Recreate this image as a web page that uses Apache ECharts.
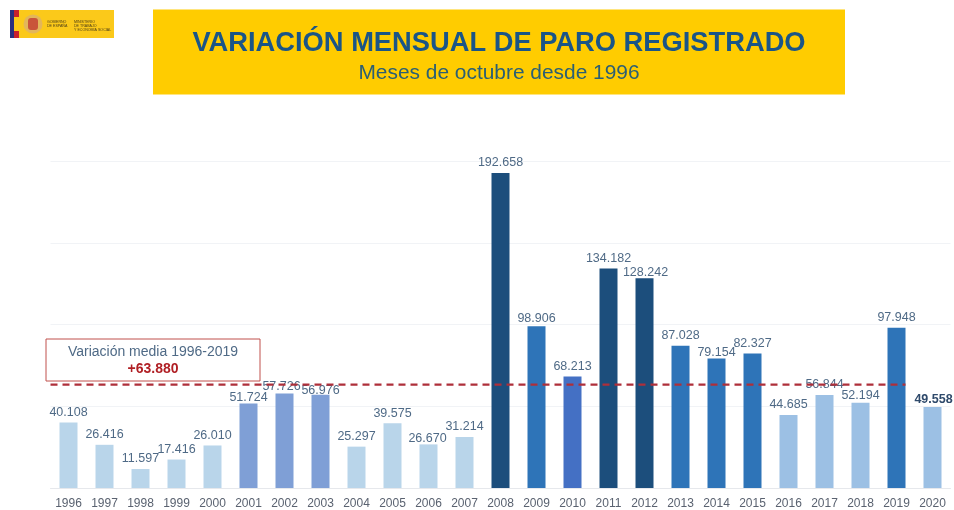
<!DOCTYPE html>
<html>
<head>
<meta charset="utf-8">
<title>Variación mensual de paro registrado</title>
<style>
  html, body {margin: 0; padding: 0; background: #fff;}
  #chart {width: 954px; height: 510px;}
</style>
<script src="https://cdn.jsdelivr.net/npm/echarts@6/dist/echarts.min.js"></script>
</head>
<body>
<div id="chart"></div>
<script>
const years = ['1996', '1997', '1998', '1999', '2000', '2001', '2002', '2003', '2004', '2005', '2006', '2007',
  '2008', '2009', '2010', '2011', '2012', '2013', '2014', '2015', '2016', '2017', '2018', '2019', '2020'];
const paro = [40108, 26416, 11597, 17416, 26010, 51724, 57726, 56976, 25297, 39575, 26670, 31214,
  192658, 98906, 68213, 134182, 128242, 87028, 79154, 82327, 44685, 56844, 52194, 97948, 49558];
const media = 63880;
const mediaDesde = '1996';
const mediaHasta = '2019';

// colours per bar, same order as years
const light = '#b9d5ea', violet = '#7f9fd6', navy = '#1c4e7c', blue = '#2e74b8', indigo = '#4470c4', sky = '#9cc0e4';
const barColors = [light, light, light, light, light, violet, violet, violet, light, light, light, light,
  navy, blue, indigo, navy, navy, blue, blue, blue, sky, sky, sky, blue, sky];

// hand nudges so the labels overlap the way they do in the slide: [dx, dy]
const labelNudge = {
  2001: [0, 4], 2002: [-3, 3], 2003: [0, 6], 2006: [-1, 4], 2009: [0, 2],
  2012: [1, 4], 2014: [0, 4], 2017: [0, -1], 2018: [0, 3], 2020: [1, 3]
};

const fmt = v => String(v).replace(/\B(?=(\d{3})+$)/g, '.');

const myChart = echarts.init(document.getElementById('chart'), null, {renderer: 'canvas'});
myChart.setOption({
  animation: false,
  backgroundColor: '#fff',
  textStyle: {fontFamily: '"Liberation Sans", Arial, sans-serif'},
  grid: {left: 50.5, right: 3.5, top: 161, bottom: 20},
  xAxis: {
    type: 'category',
    data: years,
    axisTick: {show: false},
    axisLine: {lineStyle: {color: '#e6e8ec', width: 1}},
    axisLabel: {color: '#5a6270', fontSize: 12, margin: 10, interval: 0}
  },
  yAxis: {
    type: 'value',
    min: 0,
    max: 200000,
    interval: 50000,
    axisLabel: {show: false},
    axisLine: {show: false},
    axisTick: {show: false},
    splitLine: {lineStyle: {color: '#f1f3f6', width: 1}}
  },
  series: [
    {
      type: 'bar',
      barWidth: 18,
      data: paro.map((v, i) => {
        const nudge = labelNudge[years[i]] || [0, 0];
        const last = years[i] === '2020';
        return {
          value: v,
          itemStyle: {color: barColors[i]},
          label: {
            offset: nudge,
            color: last ? '#2f4a6b' : '#4f6a86',
            fontWeight: last ? 'bold' : 'normal'
          }
        };
      }),
      label: {
        show: true,
        position: 'top',
        distance: 3.5,
        fontSize: 12.5,
        formatter: p => fmt(p.value)
      },
      z: 2
    },
    {
      // dashed average: from the left edge of the first slot to the right edge of the last bar
      type: 'custom',
      silent: true,
      z: 3,
      data: [[mediaDesde, mediaHasta, media]],
      encode: {x: [0, 1], y: 2},
      renderItem(params, api) {
        const from = api.coord([api.value(0), api.value(2)]);
        const to = api.coord([api.value(1), api.value(2)]);
        const slot = api.size([1, 0])[0];
        return {
          type: 'line',
          shape: {x1: from[0] - slot / 2, y1: from[1] + 1, x2: to[0] + slot / 4, y2: to[1] + 1},
          style: {stroke: '#ae2f3a', lineWidth: 2.2, lineDash: [7, 5], fill: null}
        };
      }
    }
  ],
  graphic: [
    // title band
    {type: 'rect', shape: {x: 153, y: 9.5, width: 692, height: 85}, style: {fill: '#ffcc00'}, z: 10},
    {type: 'text', x: 499, y: 43, z: 11, style: {
      text: 'VARIACIÓN MENSUAL DE PARO REGISTRADO',
      font: 'bold 27.3px "Liberation Sans", Arial, sans-serif',
      fill: '#1a5587', align: 'center', verticalAlign: 'middle'}},
    {type: 'text', x: 499, y: 73.5, z: 11, style: {
      text: 'Meses de octubre desde 1996',
      font: '20.9px "Liberation Sans", Arial, sans-serif',
      fill: '#2b5f74', align: 'center', verticalAlign: 'middle'}},
    // ministry logo
    {type: 'rect', shape: {x: 10, y: 10, width: 104, height: 28}, style: {fill: '#fbc91a'}, z: 10},
    {type: 'rect', shape: {x: 10, y: 10, width: 4, height: 28}, style: {fill: '#2a2f7f'}, z: 11},
    {type: 'rect', shape: {x: 14, y: 10, width: 5, height: 7}, style: {fill: '#c8202c'}, z: 11},
    {type: 'rect', shape: {x: 14, y: 31, width: 5, height: 7}, style: {fill: '#c8202c'}, z: 11},
    {type: 'circle', shape: {cx: 33, cy: 24, r: 9.5}, style: {fill: '#e3b65a'}, z: 11},
    {type: 'rect', shape: {x: 28, y: 18, width: 10, height: 12, r: 3}, style: {fill: '#c9543a'}, z: 12},
    {type: 'text', x: 47, y: 24, z: 11, style: {
      text: 'GOBIERNO\nDE ESPAÑA',
      font: '3.6px "Liberation Sans", Arial, sans-serif', lineHeight: 4,
      fill: '#4a3c18', verticalAlign: 'middle'}},
    {type: 'text', x: 74, y: 26, z: 11, style: {
      text: 'MINISTERIO\nDE TRABAJO\nY ECONOMÍA SOCIAL',
      font: '3.6px "Liberation Sans", Arial, sans-serif', lineHeight: 4,
      fill: '#4a3c18', verticalAlign: 'middle'}},
    // average callout
    {type: 'rect', shape: {x: 46, y: 339, width: 214, height: 42}, style: {fill: '#fff', stroke: '#c0504d', lineWidth: 1}, z: 10},
    {type: 'text', x: 153, y: 352, z: 11, style: {
      text: 'Variación media ' + mediaDesde + '-' + mediaHasta,
      font: '14px "Liberation Sans", Arial, sans-serif',
      fill: '#4f6a86', align: 'center', verticalAlign: 'middle'}},
    {type: 'text', x: 153, y: 369, z: 11, style: {
      text: '+' + fmt(media),
      font: 'bold 14px "Liberation Sans", Arial, sans-serif',
      fill: '#b01f24', align: 'center', verticalAlign: 'middle'}}
  ]
});
</script>
</body>
</html>
